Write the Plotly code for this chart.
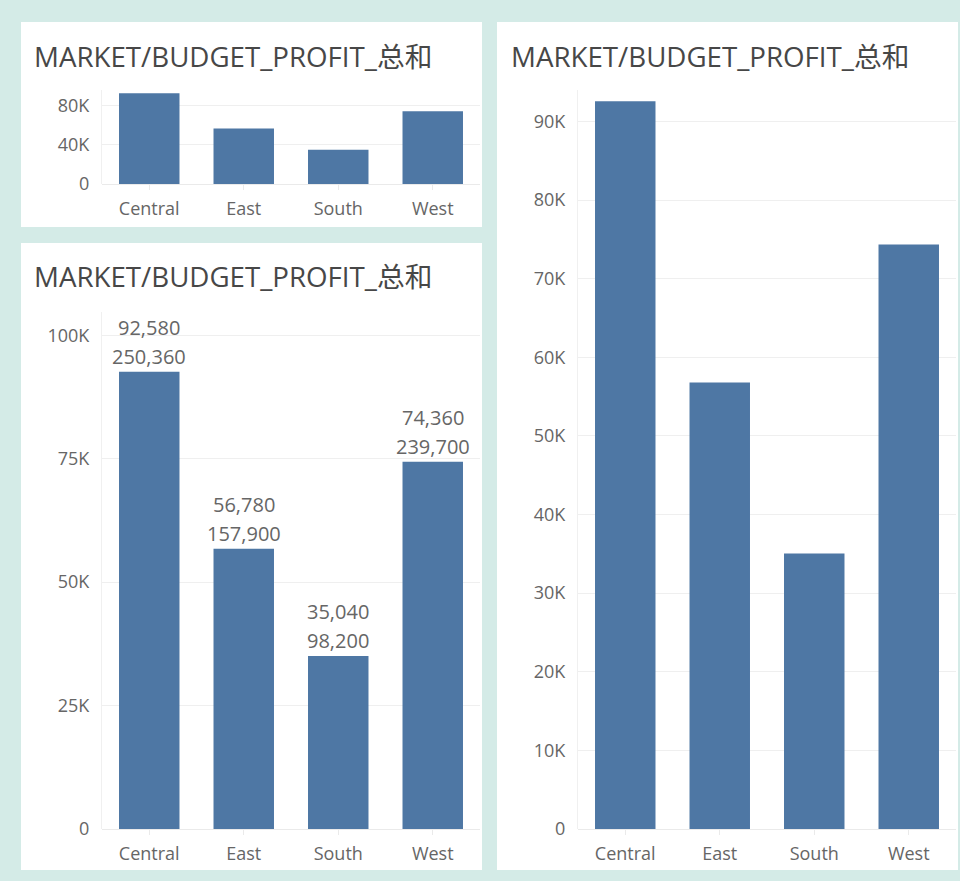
import plotly.graph_objects as go

regions = ["Central", "East", "South", "West"]
profit = [92580, 56780, 35040, 74360]
budget = [250360, 157900, 98200, 239700]

title_text = "MARKET/BUDGET_PROFIT_总和"

W, H = 960, 881
BG = "#d4ebe7"
BAR = "#4e77a4"
TICK = "#666666"
GRID = "#efefef"
FONT = "Open Sans, Noto Sans CJK SC, sans-serif"


def px_x(p):
    return p / W


def px_y(p):
    return 1 - p / H


fig = go.Figure()

for i in (1, 2, 3):
    fig.add_trace(go.Bar(
        x=regions, y=profit, marker_color=BAR, marker_line_width=0,
        width=0.64, xaxis=f"x{i}", yaxis=f"y{i}", showlegend=False,
        hoverinfo="x+y",
    ))

# panels
panels = [(21, 22, 482, 227), (21, 243, 482, 870), (497, 22, 958, 870)]
shapes = []
for x0, y0, x1, y1 in panels:
    shapes.append(dict(type="rect", xref="paper", yref="paper",
                       x0=px_x(x0), x1=px_x(x1), y0=px_y(y1), y1=px_y(y0),
                       fillcolor="white", line_width=0, layer="below"))

xcommon = dict(type="category", range=[-0.5, 3.5], showgrid=False, zeroline=False,
               showline=False, ticks="outside", ticklen=5, tickcolor="#eaeaea",
               tickfont=dict(family=FONT, size=18, color=TICK), ticklabelstandoff=3,
               automargin=False, fixedrange=True)
ycommon = dict(showgrid=True, gridcolor=GRID, gridwidth=1, zeroline=True,
               zerolinecolor="#eaeaea", zerolinewidth=1, showline=True,
               linecolor="#f0f0f0", linewidth=1, ticks="",
               tickfont=dict(family=FONT, size=18, color=TICK), ticklabelstandoff=8,
               automargin=False, fixedrange=True)

layout = dict(
    width=W, height=H, margin=dict(l=0, r=0, t=0, b=0, pad=0), autosize=False,
    paper_bgcolor=BG, plot_bgcolor="rgba(0,0,0,0)", shapes=shapes,
    bargap=0.36,
)

layout["xaxis"] = dict(xcommon, domain=[px_x(102), px_x(480)], anchor="y")
layout["yaxis"] = dict(ycommon, domain=[px_y(184), px_y(90)], anchor="x",
                       range=[0, 96000], tickvals=[0, 40000, 80000],
                       ticktext=["0", "40K", "80K"])
layout["xaxis2"] = dict(xcommon, domain=[px_x(102), px_x(480)], anchor="y2")
layout["yaxis2"] = dict(ycommon, domain=[px_y(829), px_y(312)], anchor="x2",
                        range=[0, 104700], tickvals=[0, 25000, 50000, 75000, 100000],
                        ticktext=["0", "25K", "50K", "75K", "100K"])
layout["xaxis3"] = dict(xcommon, domain=[px_x(578), px_x(956)], anchor="y3")
layout["yaxis3"] = dict(ycommon, domain=[px_y(829), px_y(90)], anchor="x3",
                        range=[0, 94000], tickvals=[i * 10000 for i in range(10)],
                        ticktext=["0"] + [f"{i*10}K" for i in range(1, 10)])

annotations = []
for tx, ty in [(32, 56), (32, 276), (509, 56)]:
    annotations.append(dict(xref="paper", yref="paper", x=px_x(tx), y=px_y(ty),
                            xanchor="left", yanchor="middle", showarrow=False,
                            text=title_text,
                            font=dict(family=FONT, size=27.7, color="#474747")))

for r, p, b in zip(regions, profit, budget):
    annotations.append(dict(xref="x2", yref="y2", x=r, y=p, yshift=15,
                            xanchor="center", yanchor="middle", showarrow=False,
                            text=f"{b:,}", font=dict(family=FONT, size=20, color=TICK)))
    annotations.append(dict(xref="x2", yref="y2", x=r, y=p, yshift=44,
                            xanchor="center", yanchor="middle", showarrow=False,
                            text=f"{p:,}", font=dict(family=FONT, size=20, color=TICK)))

layout["annotations"] = annotations
fig.update_layout(**layout)
fig.write_html("out.html",
               config={"displayModeBar": False, "responsive": False},
               post_script="document.body.style.margin='0';document.body.style.overflow='hidden';document.body.style.background='" + BG + "';")
